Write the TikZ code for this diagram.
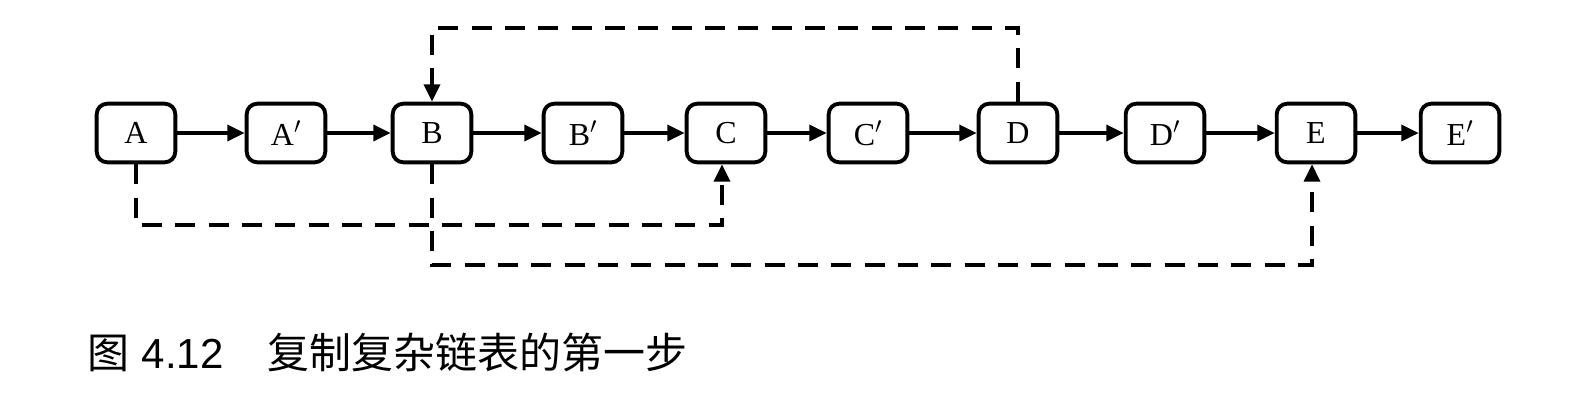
\documentclass[tikz,border=0pt]{standalone}
\usepackage{fontspec}
\setmainfont{Liberation Serif}
\newfontfamily\cjk{Noto Sans CJK SC}
\newfontfamily\capsans{Liberation Sans}
\usetikzlibrary{arrows.meta,calc}
\begin{document}
\begin{tikzpicture}[x=0.75pt,y=-0.75pt,
  box/.style={draw,line width=2.9pt,rounded corners=8pt,minimum width=59pt,minimum height=44pt,inner sep=0pt,font=\fontsize{24pt}{26pt}\selectfont},
  link/.style={line width=2.6pt,-{Triangle[length=13pt,width=12pt]}},
  rnd/.style={line width=2.6pt,dash pattern=on 15pt off 10pt},
  rndarrow/.style={rnd,-{Triangle[length=13pt,width=12pt]}}]
\useasboundingbox (0,0) rectangle (1576,400);
\node[box] (A) at (136,133) {A};
\node[box] (Ap) at (286,133) {A$'$};
\node[box] (B) at (432,133) {B};
\node[box] (Bp) at (583,133) {B$'$};
\node[box] (C) at (726,133) {C};
\node[box] (Cp) at (868,133) {C$'$};
\node[box] (D) at (1018,133) {D};
\node[box] (Dp) at (1165,133) {D$'$};
\node[box] (E) at (1316,133) {E};
\node[box] (Ep) at (1460,133) {E$'$};
\foreach \a/\b in {A/Ap,Ap/B,B/Bp,Bp/C,C/Cp,Cp/D,D/Dp,Dp/E,E/Ep}
  \draw[link] (\a) -- (\b);
\coordinate (top) at (0,28);
\coordinate (low1) at (0,225);
\coordinate (low2) at (0,265);
\draw[rndarrow] (D.north) -- (D.north |- top) -| (B.north);
\draw[rndarrow] (A.south) -- (A.south |- low1) -| ($(C.south)+(-4,0)$);
\draw[rndarrow] (B.south) -- (B.south |- low2) -| ($(E.south)+(-4,0)$);
\node[anchor=west,inner sep=0pt,font=\fontsize{31.5pt}{34pt}\selectfont] (cap) at (87,352) {\cjk 图\hspace{0.3em}{\capsans 4.12}\hspace{1.05em}复制复杂链表的第一步};
\end{tikzpicture}
\end{document}
